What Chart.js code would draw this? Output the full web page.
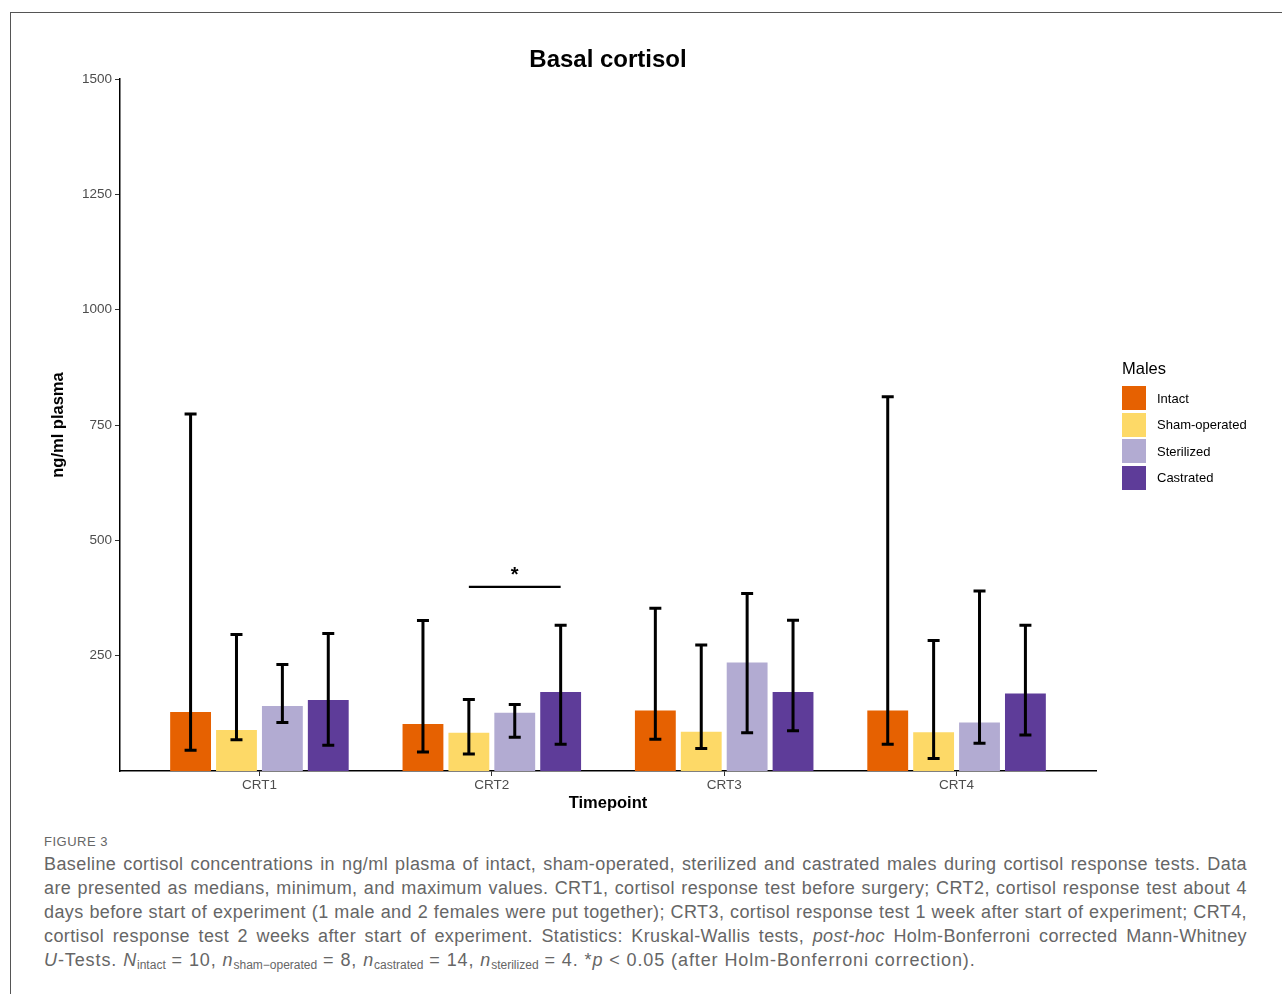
<!DOCTYPE html>
<html>
<head>
<meta charset="utf-8">
<script src="https://cdn.jsdelivr.net/npm/chart.js@4.4.0/dist/chart.umd.min.js"></script>
<style>
  body { margin: 0; background: #fff; font-family: "Liberation Sans", Arial, sans-serif; }
  #frame { position: absolute; left: 10px; top: 12px; width: 1300px; height: 1000px; border: 1px solid #555; }
  #wrap { position: absolute; left: 0; top: 0; width: 1282px; height: 830px; }
  #title { position: absolute; left: 0; width: 1216px; top: 45px; line-height: 28px; text-align: center;
           font-weight: bold; font-size: 24px; color: #000; }
  #legend { position: absolute; left: 1122px; top: 358px; font-size: 13px; color: #000; }
  #legend .head { font-size: 16.5px; height: 27px; line-height: 20px; }
  #legend .item { height: 26.5px; display: flex; align-items: center; }
  #legend .box { width: 24px; height: 24px; margin-right: 11px; }
  #caption { position: absolute; left: 44px; top: 832px; width: 1203px; color: #666; }
  #caption .fig { font-size: 13px; letter-spacing: 0.5px; height: 20px; line-height: 20px; }
  #caption .line { font-size: 18px; line-height: 24px; height: 24px; white-space: nowrap; letter-spacing: 0.4px;
                   text-align: justify; text-align-last: justify; }
  #caption .last { text-align: left; text-align-last: left; letter-spacing: 0.9px; }
  sub { font-size: 12px; vertical-align: -3px; line-height: 0; letter-spacing: 0; }
</style>
</head>
<body>
<div id="frame"></div>
<div id="wrap"><canvas id="chart" width="1282" height="830"></canvas></div>
<div id="title">Basal cortisol</div>
<div id="legend"></div>
<div id="caption">
  <div class="fig">FIGURE 3</div>
  <div class="line">Baseline cortisol concentrations in ng/ml plasma of intact, sham-operated, sterilized and castrated males during cortisol response tests. Data</div>
  <div class="line">are presented as medians, minimum, and maximum values. CRT1, cortisol response test before surgery; CRT2, cortisol response test about 4</div>
  <div class="line">days before start of experiment (1 male and 2 females were put together); CRT3, cortisol response test 1 week after start of experiment; CRT4,</div>
  <div class="line">cortisol response test 2 weeks after start of experiment. Statistics: Kruskal-Wallis tests, <i>post-hoc</i> Holm-Bonferroni corrected Mann-Whitney</div>
  <div class="line last"><i>U</i>-Tests. <i>N</i><sub>intact</sub> = 10, <i>n</i><sub>sham−operated</sub> = 8, <i>n</i><sub>castrated</sub> = 14, <i>n</i><sub>sterilized</sub> = 4. *<i>p</i> &lt; 0.05 (after Holm-Bonferroni correction).</div>
</div>
<script>
const categories = ["CRT1", "CRT2", "CRT3", "CRT4"];
const groups = ["Intact", "Sham-operated", "Sterilized", "Castrated"];
const colors = ["#E66101", "#FDD967", "#B2ABD2", "#5E3C99"];

// medians, minimum, maximum (ng/ml plasma)
const intact = [128, 102, 131, 131];
const intactMin = [45, 41, 69, 58];
const intactMax = [774, 326, 353, 811];
const sham = [89, 83, 85, 84];
const shamMin = [68, 37, 49, 27];
const shamMax = [296, 155, 273, 283];
const sterilized = [141, 126, 235, 105];
const sterilizedMin = [105, 73, 83, 60];
const sterilizedMax = [231, 144, 385, 390];
const castrated = [154, 171, 171, 168];
const castratedMin = [56, 58, 87, 78];
const castratedMax = [298, 316, 327, 316];

const yTicks = [250, 500, 750, 1000, 1250, 1500];

// significance bracket: CRT2, Sham-operated vs Castrated
const sigCategory = 1;
const sigFrom = 1;
const sigTo = 3;
const sigLevel = 399;

const medians = [intact, sham, sterilized, castrated];
const mins = [intactMin, shamMin, sterilizedMin, castratedMin];
const maxs = [intactMax, shamMax, sterilizedMax, castratedMax];

// legend
const legend = document.getElementById("legend");
legend.innerHTML = '<div class="head">Males</div>' + groups.map((g, i) =>
  '<div class="item"><div class="box" style="background:' + colors[i] + '"></div>' + g + '</div>').join("");

const errorBars = {
  id: "errorBars",
  afterDatasetsDraw(chart) {
    const ctx = chart.ctx;
    const y = chart.scales.y;
    ctx.save();
    ctx.strokeStyle = "#000";
    ctx.lineWidth = 3;
    medians.forEach((m, di) => {
      chart.getDatasetMeta(di).data.forEach((bar, i) => {
        const top = y.getPixelForValue(maxs[di][i]);
        const bot = y.getPixelForValue(mins[di][i]);
        ctx.beginPath();
        ctx.moveTo(bar.x, top);
        ctx.lineTo(bar.x, bot);
        ctx.moveTo(bar.x - 6, top);
        ctx.lineTo(bar.x + 6, top);
        ctx.moveTo(bar.x - 6, bot);
        ctx.lineTo(bar.x + 6, bot);
        ctx.stroke();
      });
    });
    // significance line and star
    const x1 = chart.getDatasetMeta(sigFrom).data[sigCategory].x;
    const x2 = chart.getDatasetMeta(sigTo).data[sigCategory].x;
    const ly = y.getPixelForValue(sigLevel);
    ctx.lineWidth = 2.2;
    ctx.beginPath();
    ctx.moveTo(x1, ly);
    ctx.lineTo(x2, ly);
    ctx.stroke();
    ctx.fillStyle = "#000";
    ctx.font = "bold 20px 'Liberation Sans', Arial, sans-serif";
    ctx.textAlign = "center";
    ctx.textBaseline = "middle";
    ctx.fillText("*", (x1 + x2) / 2, ly - 11);
    ctx.restore();
  }
};

new Chart(document.getElementById("chart"), {
  type: "bar",
  data: {
    datasets: groups.map((g, di) => ({
      label: g,
      data: medians[di].map((v, i) => ({ x: i + 1, y: v })),
      backgroundColor: colors[di],
      borderWidth: 0,
      categoryPercentage: 0.79,
      barPercentage: 0.89,
    })),
  },
  options: {
    responsive: false,
    animation: false,
    layout: { padding: { left: 40, top: 79, right: 186, bottom: 13 } },
    plugins: { legend: { display: false }, tooltip: { enabled: false } },
    scales: {
      x: {
        type: "linear",
        min: 0.4,
        max: 4.6,
        offset: false,
        afterBuildTicks: (axis) => { axis.ticks = categories.map((c, i) => ({ value: i + 1 })); },
        afterFit: (s) => { s.height = 46; },
        ticks: {
          callback: (v) => categories[v - 1],
          color: "#4d4d4d",
          font: { family: "'Liberation Sans', Arial, sans-serif", size: 13.5 },
          padding: 1,
          maxRotation: 0,
        },
        grid: { offset: false, drawOnChartArea: false, drawTicks: true, tickLength: 5, color: "#333", lineWidth: 1 },
        border: { display: true, color: "#000", width: 1.5 },
        title: {
          display: true,
          text: "Timepoint",
          color: "#000",
          font: { family: "'Liberation Sans', Arial, sans-serif", size: 16.5, weight: "bold" },
          padding: { top: 4, bottom: 4 },
        },
      },
      y: {
        min: 0,
        max: 1500,
        afterBuildTicks: (axis) => { axis.ticks = yTicks.map((v) => ({ value: v })); },
        afterFit: (s) => { s.width = 80; },
        ticks: {
          callback: (v) => String(v),
          color: "#4d4d4d",
          font: { family: "'Liberation Sans', Arial, sans-serif", size: 13.5 },
          padding: 3,
        },
        grid: { drawOnChartArea: false, drawTicks: true, tickLength: 5, color: "#333", lineWidth: 1 },
        border: { display: true, color: "#000", width: 1.5 },
        title: {
          display: true,
          text: "ng/ml plasma",
          color: "#000",
          font: { family: "'Liberation Sans', Arial, sans-serif", size: 16.5, weight: "bold" },
          padding: { top: 9, bottom: 4 },
        },
      },
    },
  },
  plugins: [errorBars],
});
</script>
</body>
</html>
